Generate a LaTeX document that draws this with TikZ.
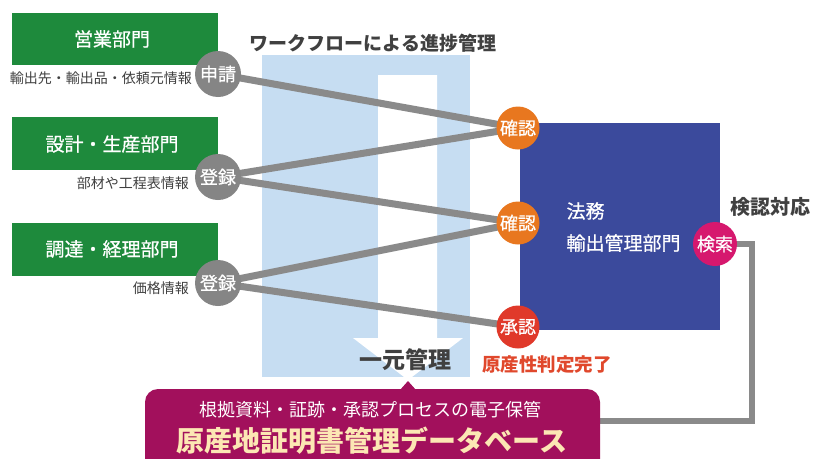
\documentclass[tikz,border=0pt]{standalone}
\usepackage{fontspec}
\setmainfont{Noto Sans CJK JP}
\newfontfamily\med{Noto Sans CJK JP}[FakeBold=0.6]
\definecolor{dgreen}{HTML}{1E8A3C}
\definecolor{cgray}{HTML}{858585}
\definecolor{lgray}{HTML}{8A8A8A}
\definecolor{corange}{HTML}{E8771F}
\definecolor{cred}{HTML}{E0392A}
\definecolor{cmag}{HTML}{D6186E}
\definecolor{cblue}{HTML}{3B4A9C}
\definecolor{lblue}{HTML}{C6DDF2}
\definecolor{maroon}{HTML}{A2105C}
\definecolor{cream}{HTML}{FCE7B4}
\definecolor{dtext}{HTML}{404040}
\definecolor{rtext}{HTML}{E0482C}
\newcommand{\fs}[1]{\fontsize{#1}{#1}\selectfont}
\tikzset{
  depttext/.style={text=white, font=\med\fs{19}},
  badge/.style={circle, minimum size=46pt, inner sep=0pt, text=white, font=\med\fs{18}},
  sub/.style={text=dtext, font=\fs{14}, inner sep=0pt},
  flow/.style={draw=lgray, line width=7pt},
  loopline/.style={draw=lgray, line width=6pt},
}
\begin{document}
\begin{tikzpicture}[x=1pt,y=-1pt]
\useasboundingbox (0,0) rectangle (814,458);
\clip (0,0) rectangle (814,458);
\fill[white] (0,0) rectangle (814,458);

% light blue workflow band with white arrow
\fill[lblue] (262,55) rectangle (470,377);
\fill[white] (378,75) -- (437,75) -- (437,338) -- (463,338) -- (408,380) -- (353,338) -- (378,338) -- cycle;

% department boxes
\fill[dgreen] (12,13) rectangle (218,65);
\node[depttext] (d1) at (112,39) {営業部門};
\fill[dgreen] (12,117) rectangle (218,170);
\node[depttext] (d2) at (112,144) {設計・生産部門};
\fill[dgreen] (12,223) rectangle (218,276);
\node[depttext] (d3) at (112,249) {調達・経理部門};

\node[sub, anchor=east] (s1) at (192,78) {輸出先・輸出品・依頼元情報};
\node[sub, anchor=east] (s2) at (189,183) {部材や工程表情報};
\node[sub, anchor=east] (s3) at (189,288) {価格情報};

% blue box
\fill[cblue] (520,123) rectangle (720,330);
\node[text=white, font=\med\fs{19}, anchor=west] (lw) at (563,211) {法務};
\node[text=white, font=\med\fs{19}, anchor=west] (ex) at (563,243) {輸出管理部門};

% badge positions
\coordinate (pa) at (218,74);
\coordinate (pb) at (218,177);
\coordinate (pc) at (218,283);
\coordinate (qa) at (518,128);
\coordinate (qb) at (518,223);
\coordinate (qc) at (518,327);

% connectors
\draw[flow] (pa) -- (qa);
\draw[flow] (pb) -- (qa);
\draw[flow] (pb) -- (qb);
\draw[flow] (pc) -- (qb);
\draw[flow] (pc) -- (qc);

% database link
\coordinate (srch) at (715,244);
\coordinate (k1) at (752,244);
\coordinate (k2) at (752,421);
\coordinate (k3) at (590,421);
\draw[loopline] (srch) -- (k1) -- (k2) -- (k3);

% database box
\fill[maroon, rounded corners=13pt] (145,389) rectangle (600,480);
\fill[maroon] (400,390) -- (408,381) -- (416,390) -- cycle;
\node[text=white, font=\fs{18}] (dbs) at (370,410) {根拠資料・証跡・承認プロセスの電子保管};
\node[text=cream, font=\bfseries\fs{28}] (dbt) at (372,441) {原産地証明書管理データベース};

% badges
\node[badge, fill=cgray] (b1) at (pa) {申請};
\node[badge, fill=cgray] (b2) at (pb) {登録};
\node[badge, fill=cgray] (b3) at (pc) {登録};
\node[badge, fill=corange, minimum size=43pt] (c1) at (qa) {確認};
\node[badge, fill=corange, minimum size=43pt] (c2) at (qb) {確認};
\node[badge, fill=cred, minimum size=43pt] (c3) at (qc) {承認};
\node[badge, fill=cmag, minimum size=44pt] (sr) at (srch) {検索};

% labels
\node[text=dtext, font=\bfseries\fs{19}] (wf) at (373,43) {ワークフローによる進捗管理};
\node[text=dtext, font=\bfseries\fs{20}] (kn) at (770,207) {検認対応};
\node[text=dtext, font=\bfseries\fs{23}] (ic) at (405,360) {一元管理};
\node[text=rtext, font=\bfseries\fs{18.5}] (gs) at (547,365) {原産性判定完了};
\end{tikzpicture}
\end{document}
